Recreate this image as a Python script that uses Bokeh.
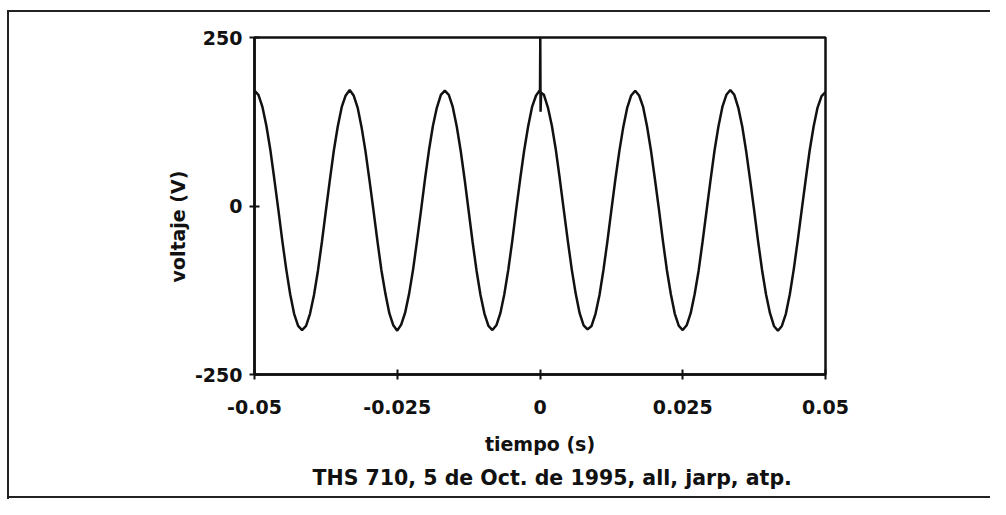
from bokeh.plotting import figure
from bokeh.models import Range1d, FixedTicker, Title
from bokeh.embed import file_html
from bokeh.resources import INLINE

# time samples (s)
tiempo = [
    -0.05000, -0.04931, -0.04861, -0.04792, -0.04722, -0.04653, -0.04583, -0.04514,
    -0.04444, -0.04375, -0.04306, -0.04236, -0.04167, -0.04097, -0.04028, -0.03958,
    -0.03889, -0.03819, -0.03750, -0.03681, -0.03611, -0.03542, -0.03472, -0.03403,
    -0.03333, -0.03264, -0.03194, -0.03125, -0.03056, -0.02986, -0.02917, -0.02847,
    -0.02778, -0.02708, -0.02639, -0.02569, -0.02500, -0.02431, -0.02361, -0.02292,
    -0.02222, -0.02153, -0.02083, -0.02014, -0.01944, -0.01875, -0.01806, -0.01736,
    -0.01667, -0.01597, -0.01528, -0.01458, -0.01389, -0.01319, -0.01250, -0.01181,
    -0.01111, -0.01042, -0.00972, -0.00903, -0.00833, -0.00764, -0.00694, -0.00625,
    -0.00556, -0.00486, -0.00417, -0.00347, -0.00278, -0.00208, -0.00139, -0.00069,
    0.00000, 0.00005, 0.00010, 0.00020,
    0.00069, 0.00139, 0.00208, 0.00278, 0.00347, 0.00417, 0.00486, 0.00556,
    0.00625, 0.00694, 0.00764, 0.00833, 0.00903, 0.00972, 0.01042, 0.01111,
    0.01181, 0.01250, 0.01319, 0.01389, 0.01458, 0.01528, 0.01597, 0.01667,
    0.01736, 0.01806, 0.01875, 0.01944, 0.02014, 0.02083, 0.02153, 0.02222,
    0.02292, 0.02361, 0.02431, 0.02500, 0.02569, 0.02639, 0.02708, 0.02778,
    0.02847, 0.02917, 0.02986, 0.03056, 0.03125, 0.03194, 0.03264, 0.03333,
    0.03403, 0.03472, 0.03542, 0.03611, 0.03681, 0.03750, 0.03819, 0.03889,
    0.03958, 0.04028, 0.04097, 0.04167, 0.04236, 0.04306, 0.04375, 0.04444,
    0.04514, 0.04583, 0.04653, 0.04722, 0.04792, 0.04861, 0.04931, 0.05000,
]

# voltage samples (V)
voltaje = [
    171, 165, 147, 119, 83, 40, -5, -51, -94, -131, -160, -178,
    -184, -178, -160, -132, -96, -53, -7, 38, 82, 118, 147, 164,
    172, 164, 146, 117, 81, 38, -6, -52, -95, -130, -159, -177,
    -185, -176, -158, -130, -94, -51, -6, 40, 83, 119, 146, 165,
    171, 165, 147, 118, 82, 39, -7, -53, -96, -132, -160, -178,
    -184, -177, -159, -131, -95, -52, -5, 40, 82, 118, 147, 164,
    172, 250, 140, 168,
    165, 146, 119, 83, 40, -6, -51, -94, -130, -159, -177, -183,
    -178, -160, -132, -95, -52, -6, 39, 81, 117, 146, 164, 171,
    164, 147, 118, 82, 39, -5, -52, -95, -131, -160, -178, -184,
    -177, -159, -131, -96, -53, -7, 38, 82, 118, 147, 165, 172,
    165, 146, 118, 81, 38, -6, -52, -95, -131, -159, -178, -185,
    -178, -160, -131, -94, -51, -6, 39, 82, 118, 146, 163, 169,
]

x_ticks = [-0.05, -0.025, 0.0, 0.025, 0.05]
x_tick_labels = ["-0.05", "-0.025", "0", "0.025", "0.05"]
y_ticks = [-250, 0, 250]
y_tick_labels = ["-250", "0", "250"]

x_label = "tiempo (s)"
y_label = "voltaje (V)"
caption = "THS 710, 5 de Oct. de 1995, all, jarp, atp."

FONT = "DejaVu Sans"
INK = "#111111"

p = figure(
    width=990, height=499,
    x_range=Range1d(-0.05, 0.05), y_range=Range1d(-250, 250),
    output_backend="svg", toolbar_location=None,
    min_border_left=254, min_border_right=165,
    min_border_top=37, min_border_bottom=125,
    background_fill_color="white", border_fill_color=None,
)
# scanned page frame lines around the figure
p.styles = {
    "background-color": "white",
    "background-image": ("linear-gradient(#222222,#222222), "
                         "linear-gradient(#222222,#222222), "
                         "linear-gradient(#222222,#222222)"),
    "background-size": "2px 100%, 100% 2px, 100% 2px",
    "background-position": "7px 10px, 7px 10px, 7px 496px",
    "background-repeat": "no-repeat",
}

p.xgrid.visible = False
p.ygrid.visible = False
p.outline_line_color = INK
p.outline_line_width = 2.5

p.line(tiempo, voltaje, line_color=INK, line_width=2.5)

for ax in (p.xaxis, p.yaxis):
    ax.axis_line_color = INK
    ax.axis_line_width = 2.5
    ax.major_tick_line_color = INK
    ax.major_tick_line_width = 2
    ax.major_tick_in = 5
    ax.major_tick_out = 5
    ax.minor_tick_line_color = None
    ax.major_label_text_font = FONT
    ax.major_label_text_font_style = "bold"
    ax.major_label_text_font_size = "19px"
    ax.major_label_text_color = INK
    ax.axis_label_text_font = FONT
    ax.axis_label_text_font_style = "bold"
    ax.axis_label_text_font_size = "19px"
    ax.axis_label_text_color = INK

p.xaxis.ticker = FixedTicker(ticks=x_ticks)
p.xaxis.major_label_overrides = dict(zip(x_ticks, x_tick_labels))
p.xaxis.major_label_standoff = 20
p.xaxis.axis_label = x_label
p.xaxis.axis_label_standoff = 16

p.yaxis.ticker = FixedTicker(ticks=y_ticks)
p.yaxis.major_label_overrides = dict(zip(y_ticks, y_tick_labels))
p.yaxis.major_label_standoff = 7

# y-axis title, drawn as a side title so it can sit a little below centre
p.add_layout(Title(text=y_label, align="left", offset=92, text_font=FONT,
                   text_font_style="bold", text_font_size="19px",
                   text_color=INK, standoff=5), "left")

p.add_layout(Title(text=caption, align="left", offset=58, text_font=FONT,
                   text_font_style="bold", text_font_size="20.5px",
                   text_color=INK, standoff=12), "below")

open("out.html", "w").write(file_html(p, INLINE))
